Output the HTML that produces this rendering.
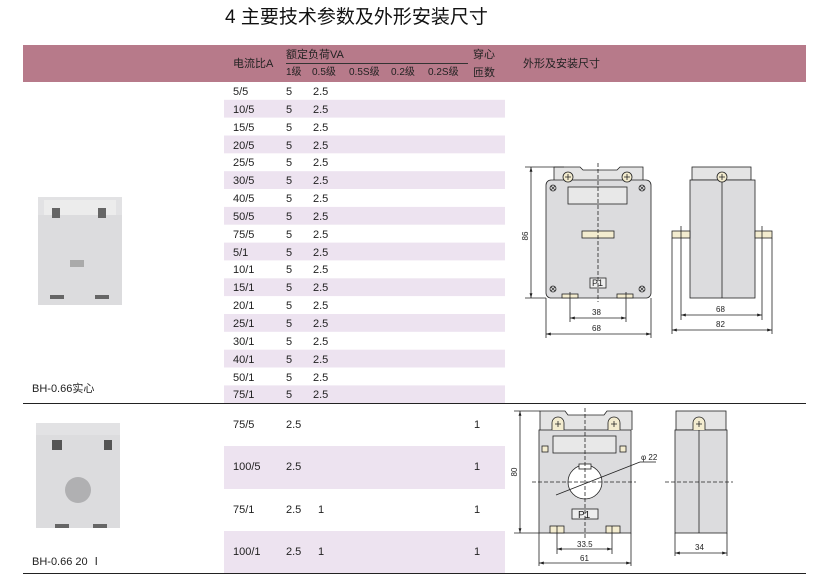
<!DOCTYPE html>
<html><head><meta charset="utf-8"><style>
body{margin:0;background:#fff;width:826px;height:586px;overflow:hidden;position:relative;font-family:"Liberation Sans","Noto Sans CJK SC",sans-serif;color:#222}
.t{position:absolute;font-size:11px;line-height:12px;white-space:nowrap}
</style></head><body>
<svg width="826" height="586" style="position:absolute;left:0;top:0" xmlns="http://www.w3.org/2000/svg" font-family="Liberation Sans, Noto Sans CJK SC, sans-serif">
<defs>
<marker id="a" viewBox="0 0 10 6" refX="10" refY="3" markerWidth="6" markerHeight="4" orient="auto-start-reverse"><path d="M0 0 L10 3 L0 6z" fill="#222"/></marker>
</defs>
<rect x="23" y="45" width="783" height="37" fill="#b77a8a"/>
<line x1="286" y1="63.5" x2="468" y2="63.5" stroke="#333" stroke-width="1"/>
<g fill="#ede3f0">
<rect x="224" y="99.8" width="281" height="17.8"/>
<rect x="224" y="135.5" width="281" height="17.8"/>
<rect x="224" y="171.2" width="281" height="17.8"/>
<rect x="224" y="206.9" width="281" height="17.8"/>
<rect x="224" y="242.6" width="281" height="17.8"/>
<rect x="224" y="278.3" width="281" height="17.8"/>
<rect x="224" y="314" width="281" height="17.8"/>
<rect x="224" y="349.7" width="281" height="17.8"/>
<rect x="224" y="385.4" width="281" height="17.8"/>
<rect x="224" y="446" width="281" height="43"/>
<rect x="224" y="531" width="281" height="43"/>
</g>
<line x1="23" y1="403.5" x2="806" y2="403.5" stroke="#222" stroke-width="1"/>
<line x1="23" y1="573.5" x2="806" y2="573.5" stroke="#222" stroke-width="1"/>

<!-- photos -->
<g>
<rect x="38" y="197" width="84" height="108" fill="#e2e2e4"/>
<rect x="44" y="200" width="72" height="18" fill="#ececec"/>
<rect x="38" y="215" width="84" height="90" fill="#dcdcde"/>
<rect x="52" y="208" width="8" height="10" fill="#666"/>
<rect x="98" y="208" width="8" height="10" fill="#666"/>
<rect x="70" y="260" width="14" height="7" fill="#aaa"/>
<rect x="50" y="295" width="14" height="4" fill="#666"/>
<rect x="95" y="295" width="14" height="4" fill="#666"/>
<rect x="36" y="423" width="84" height="105" fill="#e2e2e4"/>
<rect x="36" y="435" width="84" height="93" fill="#dcdcde"/>
<rect x="52" y="440" width="10" height="10" fill="#555"/>
<rect x="104" y="440" width="8" height="10" fill="#555"/>
<circle cx="78" cy="490" r="13" fill="#b0b0b2"/>
<rect x="55" y="524" width="14" height="4" fill="#666"/>
<rect x="93" y="524" width="14" height="4" fill="#666"/>
</g>

<!-- drawing 1 front -->
<g stroke="#222" stroke-width="0.8" fill="none">
<path d="M554 180 V167 H580 L583 170 H617 L620 167 H643 V180" fill="#e4e4e4"/>
<rect x="546" y="180" width="105" height="118" rx="5" fill="#dcdcde"/>
<rect x="568" y="187" width="59" height="17" fill="#e8e8e8"/>
<rect x="582" y="231" width="32" height="7" fill="#f3eccf"/>
<rect x="590" y="278" width="16" height="10" fill="#eee"/>
<rect x="562" y="294" width="16" height="4" fill="#f3eccf"/>
<rect x="617" y="294" width="16" height="4" fill="#f3eccf"/>
<circle cx="568" cy="177" r="5" fill="#f3eccf"/><circle cx="627" cy="177" r="5" fill="#f3eccf"/>
<path d="M565 177h6M568 174v6M624 177h6M627 174v6"/>
<circle cx="553" cy="188" r="3"/><circle cx="642" cy="188" r="3"/><circle cx="553" cy="289" r="3"/><circle cx="642" cy="289" r="3"/>
<path d="M551 186l4 4M555 186l-4 4M640 186l4 4M644 186l-4 4M551 287l4 4M555 287l-4 4M640 287l4 4M644 287l-4 4" stroke-width="0.6"/>
<line x1="598" y1="163" x2="598" y2="302" stroke-dasharray="4,2"/>
<line x1="525" y1="167" x2="564" y2="167"/><line x1="525" y1="298" x2="546" y2="298"/>
<line x1="531" y1="167" x2="531" y2="298" marker-start="url(#a)" marker-end="url(#a)"/>
<line x1="570" y1="292" x2="570" y2="322"/><line x1="626" y1="292" x2="626" y2="322"/>
<line x1="570" y1="318" x2="626" y2="318" marker-start="url(#a)" marker-end="url(#a)"/>
<line x1="546" y1="298" x2="546" y2="338"/><line x1="651" y1="298" x2="651" y2="338"/>
<line x1="546" y1="334" x2="651" y2="334" marker-start="url(#a)" marker-end="url(#a)"/>
<!-- side -->
<rect x="692" y="167" width="59" height="13" fill="#e4e4e4"/>
<rect x="690" y="180" width="65" height="118" fill="#dcdcde"/>
<line x1="722" y1="175" x2="722" y2="298"/>
<circle cx="722" cy="177" r="5" fill="#f3eccf"/>
<path d="M719 177h6M722 174v6"/>
<rect x="672" y="231" width="18" height="7" fill="#f3eccf"/>
<rect x="755" y="231" width="17" height="7" fill="#f3eccf"/>
<line x1="681" y1="226" x2="681" y2="320"/><line x1="762" y1="226" x2="762" y2="320"/>
<line x1="681" y1="315" x2="762" y2="315" marker-start="url(#a)" marker-end="url(#a)"/>
<line x1="672" y1="238" x2="672" y2="334"/><line x1="772" y1="238" x2="772" y2="334"/>
<line x1="672" y1="330" x2="772" y2="330" marker-start="url(#a)" marker-end="url(#a)"/>
</g>
<g font-size="8" fill="#222">
<text x="592" y="286" font-size="9">P1</text>
<text x="592" y="315">38</text><text x="592" y="331">68</text>
<text x="716" y="312">68</text><text x="716" y="327">82</text>
<text x="528" y="236" transform="rotate(-90 528 236)" text-anchor="middle">86</text>
</g>

<!-- drawing 2 -->
<g stroke="#222" stroke-width="0.8" fill="none">
<path d="M540 430 V411 H565 L568 415 H604 L607 411 H632 V430" fill="#e4e4e4"/>
<rect x="539" y="430" width="92" height="103" fill="#dcdcde"/>
<rect x="553" y="436" width="63" height="17" fill="#e8e8e8"/>
<rect x="542" y="446" width="6" height="6" fill="#f3eccf"/><rect x="620" y="446" width="6" height="6" fill="#f3eccf"/>
<circle cx="585" cy="482" r="17" fill="#fff"/>
<rect x="579" y="464" width="12" height="5" fill="#fff"/>
<rect x="572" y="509" width="26" height="10" fill="#eee"/>
<rect x="550" y="526" width="14" height="7" fill="#f3eccf"/><rect x="606" y="526" width="14" height="7" fill="#f3eccf"/>
<path d="M552 430 V423 a6 6 0 0 1 12 0 V430" fill="#f3eccf"/>
<path d="M608 430 V423 a6 6 0 0 1 12 0 V430" fill="#f3eccf"/>
<path d="M555 424h6M558 421v6M611 424h6M614 421v6"/>
<line x1="585" y1="408" x2="585" y2="540" stroke-dasharray="4,2"/>
<line x1="532" y1="482" x2="636" y2="482" stroke-dasharray="4,2"/>
<line x1="556" y1="495" x2="640" y2="462"/><line x1="640" y1="462" x2="656" y2="462"/>
<line x1="514" y1="411" x2="540" y2="411"/><line x1="514" y1="533" x2="539" y2="533"/>
<line x1="520" y1="411" x2="520" y2="533" marker-start="url(#a)" marker-end="url(#a)"/>
<line x1="557" y1="526" x2="557" y2="554"/><line x1="612" y1="526" x2="612" y2="554"/>
<line x1="557" y1="549" x2="612" y2="549" marker-start="url(#a)" marker-end="url(#a)"/>
<line x1="539" y1="533" x2="539" y2="566"/><line x1="631" y1="533" x2="631" y2="566"/>
<line x1="539" y1="563" x2="631" y2="563" marker-start="url(#a)" marker-end="url(#a)"/>
<rect x="676" y="411" width="50" height="19" fill="#e4e4e4"/>
<rect x="675" y="430" width="52" height="103" fill="#dcdcde"/>
<line x1="699" y1="424" x2="699" y2="533"/>
<path d="M693 430 V423 a6 6 0 0 1 12 0 V430" fill="#f3eccf"/>
<path d="M696 424h6M699 421v6"/>
<line x1="665" y1="482" x2="733" y2="482" stroke-dasharray="4,2"/>
<line x1="675" y1="533" x2="675" y2="556"/><line x1="727" y1="533" x2="727" y2="556"/>
<line x1="675" y1="553" x2="727" y2="553" marker-start="url(#a)" marker-end="url(#a)"/>
</g>
<g font-size="8" fill="#222">
<text x="578" y="518" font-size="10">P1</text>
<text x="641" y="460">φ 22</text>
<text x="577" y="547">33.5</text><text x="580" y="561">61</text>
<text x="695" y="550">34</text>
<text x="517" y="472" transform="rotate(-90 517 472)" text-anchor="middle">80</text>
</g>
</svg>

<div class="t" style="left:225px;top:7px;font-size:19px;line-height:22px;color:#111">4 主要技术参数及外形安装尺寸</div>
<div class="t" style="left:233px;top:58px;color:#222">电流比A</div>
<div class="t" style="left:286px;top:49px">额定负荷VA</div>
<div class="t" style="left:286px;top:67px;font-size:10px">1级</div>
<div class="t" style="left:312px;top:67px;font-size:10px">0.5级</div>
<div class="t" style="left:349px;top:67px;font-size:10px">0.5S级</div>
<div class="t" style="left:391px;top:67px;font-size:10px">0.2级</div>
<div class="t" style="left:428px;top:67px;font-size:10px">0.2S级</div>
<div class="t" style="left:473px;top:49px">穿心</div>
<div class="t" style="left:473px;top:67px">匝数</div>
<div class="t" style="left:523px;top:58px">外形及安装尺寸</div>

<div style="position:absolute;left:233px;top:84px;font-size:11px;line-height:17.85px">
5/5<br>10/5<br>15/5<br>20/5<br>25/5<br>30/5<br>40/5<br>50/5<br>75/5<br>5/1<br>10/1<br>15/1<br>20/1<br>25/1<br>30/1<br>40/1<br>50/1<br>75/1</div>
<div style="position:absolute;left:286px;top:84px;font-size:11px;line-height:17.85px">5<br>5<br>5<br>5<br>5<br>5<br>5<br>5<br>5<br>5<br>5<br>5<br>5<br>5<br>5<br>5<br>5<br>5</div>
<div style="position:absolute;left:313px;top:84px;font-size:11px;line-height:17.85px">2.5<br>2.5<br>2.5<br>2.5<br>2.5<br>2.5<br>2.5<br>2.5<br>2.5<br>2.5<br>2.5<br>2.5<br>2.5<br>2.5<br>2.5<br>2.5<br>2.5<br>2.5</div>
<div class="t" style="left:32px;top:383px">BH-0.66实心</div>

<div class="t" style="left:233px;top:419px">75/5</div><div class="t" style="left:286px;top:419px">2.5</div><div class="t" style="left:474px;top:419px">1</div>
<div class="t" style="left:233px;top:461px">100/5</div><div class="t" style="left:286px;top:461px">2.5</div><div class="t" style="left:474px;top:461px">1</div>
<div class="t" style="left:233px;top:504px">75/1</div><div class="t" style="left:286px;top:504px">2.5</div><div class="t" style="left:318px;top:504px">1</div><div class="t" style="left:474px;top:504px">1</div>
<div class="t" style="left:233px;top:546px">100/1</div><div class="t" style="left:286px;top:546px">2.5</div><div class="t" style="left:318px;top:546px">1</div><div class="t" style="left:474px;top:546px">1</div>
<div class="t" style="left:32px;top:556px">BH-0.66 20 Ⅰ</div>
</body></html>
